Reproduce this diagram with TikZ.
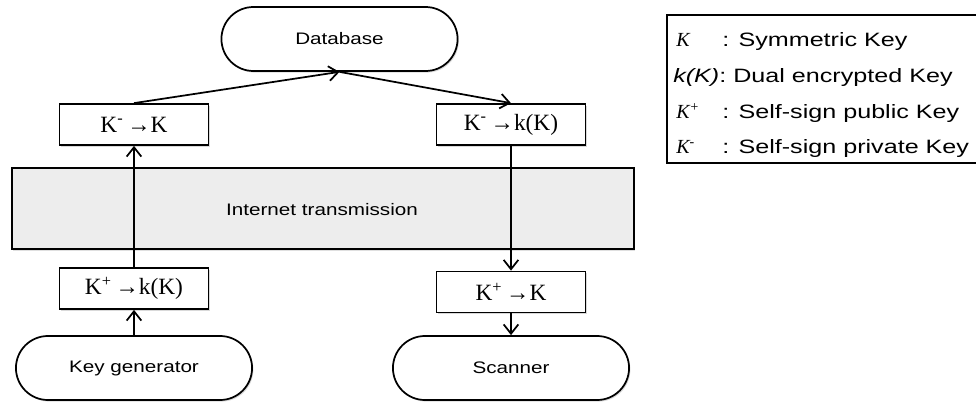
\documentclass[tikz,border=0pt]{standalone}
\usepackage{fontspec}
\setmainfont{Liberation Serif}
\setsansfont{Liberation Sans}
\usetikzlibrary{shapes.misc,shadows,arrows.meta}

\newcommand{\hwide}[2][1.24]{\scalebox{#1}[1]{#2}}

\begin{document}
\begin{tikzpicture}[x=0.75pt,y=-0.75pt,
  term/.style={rounded rectangle,draw,line width=1.3pt,fill=white,
    minimum width=183.75pt,minimum height=48pt,
    font=\sffamily\fontsize{12.5}{14}\selectfont,
    drop shadow={shadow xshift=1pt,shadow yshift=-1.2pt,opacity=.3}},
  keybox/.style={rectangle,draw,line width=1.3pt,fill=white,
    minimum width=111.75pt,minimum height=30.75pt,inner sep=0pt,
    font=\fontsize{17.5}{20}\selectfont,
    drop shadow={shadow xshift=1pt,shadow yshift=-1.2pt,opacity=.3}},
  link/.style={line width=1.3pt,-{Straight Barb[length=7pt,width=11pt,line width=1.3pt]}},
  legend/.style={anchor=base west,inner sep=0pt,font=\sffamily\fontsize{14.5}{16}\selectfont}]
\path[use as bounding box] (0,0) rectangle (976,404);

% internet band
\node[draw,line width=1.3pt,fill=black!7,minimum width=466.5pt,minimum height=60.75pt,
  drop shadow={shadow xshift=1pt,shadow yshift=-1.2pt,opacity=.25}] (net) at (323,208.5) {};
\node[font=\sffamily\fontsize{12.5}{14}\selectfont] (nettxt) at (322,210) {\hwide{Internet transmission}};

% end points
\node[term] (db)  at (339.5,39) {\hwide{Database}};
\node[term] (gen) at (134,368)  {\hwide{Key generator}};
\node[term] (scan) at (511,368) {\hwide{Scanner}};

% key steps
\node[keybox] (dec)  at (134,124.5) {K\textsuperscript{-}\,→K\hspace{2.5em}};
\node[keybox] (dual) at (511,124.5) {K\textsuperscript{-}\,→k(K)};
\node[keybox] (enc)  at (134,288.5) {K\textsuperscript{+}\,→k(K)};
\node[keybox] (ver)  at (511,292)   {K\textsuperscript{+}\,→K};

% flow
\draw[link] (enc.north) -- (dec.south);
\draw[link] (dec.north) -- (db.south);
\draw[link] (db.south) -- (dual.north);
\draw[link] (dual.south) -- (ver.north);
\draw[link] (gen.north) -- (enc.south);
\draw[link] (ver.south) -- (scan.north);

% legend
\draw[line width=1.3pt] (980,15) -- (667,15) -- (667,163) -- (980,163);
\node[legend,font=\fontsize{15}{16}\selectfont\itshape] (symK) at (676,46) {K};
\node[legend] (symKtxt) at (722,46) {\hwide[1.3]{: Symmetric Key}};
\node[legend] (dualtxt) at (673,82) {\hwide[1.3]{\textit{k(K)}: Dual encrypted Key}};
\node[legend,font=\fontsize{15}{16}\selectfont\itshape] (pubK) at (676,118) {K\textsuperscript{+}};
\node[legend] (pubtxt) at (722,118) {\hwide[1.3]{: Self-sign public Key}};
\node[legend,font=\fontsize{15}{16}\selectfont\itshape] (privK) at (676,153) {K\textsuperscript{-}};
\node[legend] (privtxt) at (722,153) {\hwide[1.3]{: Self-sign private Key}};
\end{tikzpicture}
\end{document}
